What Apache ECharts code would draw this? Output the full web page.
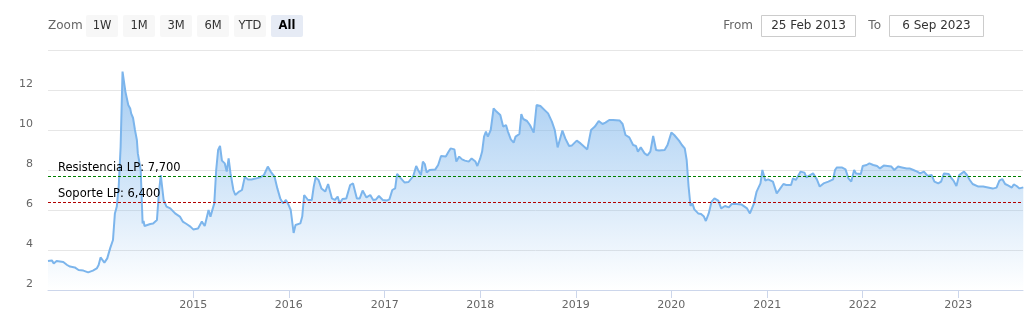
<!DOCTYPE html>
<html>
<head>
<meta charset="utf-8">
<script src="https://cdn.jsdelivr.net/npm/echarts@6/dist/echarts.min.js"></script>
<style>
html,body{margin:0;padding:0;background:#fff;}
#chart{width:1034px;height:321px;}
</style>
</head>
<body>
<div id="chart"></div>
<script>
// Dates as decimal years
const years = [
2013.48,2013.50,2013.52,2013.54,2013.57,2013.64,2013.68,2013.71,2013.76,2013.80,2013.85,2013.90,2013.95,2013.99,
2014.01,2014.03,2014.07,2014.10,2014.13,2014.16,2014.18,2014.20,2014.22,2014.24,2014.26,2014.29,2014.30,2014.32,
2014.34,2014.35,2014.37,2014.38,2014.39,2014.41,2014.42,2014.45,2014.47,2014.48,2014.49,2014.51,2014.55,2014.58,
2014.62,2014.64,2014.66,2014.69,2014.72,2014.76,2014.81,2014.86,2014.89,2014.93,2014.97,
2015.00,2015.05,2015.09,2015.12,2015.16,2015.18,2015.22,2015.24,2015.26,2015.28,2015.30,2015.33,2015.35,2015.37,
2015.39,2015.42,2015.44,2015.48,2015.51,2015.54,2015.57,2015.61,2015.65,2015.70,2015.74,2015.78,2015.81,2015.85,
2015.88,2015.91,2015.94,2015.97,2015.99,
2016.02,2016.05,2016.07,2016.12,2016.14,2016.16,2016.20,2016.24,2016.26,2016.28,2016.31,2016.34,2016.38,2016.41,
2016.43,2016.45,2016.48,2016.51,2016.53,2016.56,2016.60,2016.64,2016.67,2016.71,2016.74,2016.77,2016.81,2016.85,
2016.88,2016.91,2016.94,2016.98,
2017.02,2017.05,2017.08,2017.11,2017.13,2017.16,2017.21,2017.25,2017.27,2017.30,2017.33,2017.35,2017.38,2017.40,
2017.42,2017.44,2017.47,2017.53,2017.56,2017.59,2017.61,2017.64,2017.67,2017.69,2017.73,2017.75,2017.78,2017.81,
2017.84,2017.88,2017.91,2017.95,2017.97,
2018.00,2018.02,2018.04,2018.06,2018.08,2018.11,2018.14,2018.17,2018.21,2018.24,2018.27,2018.29,2018.32,2018.35,
2018.37,2018.41,2018.43,2018.45,2018.49,2018.52,2018.56,2018.59,2018.63,2018.68,2018.71,2018.75,2018.78,2018.81,
2018.83,2018.86,2018.89,2018.91,2018.93,2018.96,
2019.01,2019.05,2019.08,2019.12,2019.14,2019.16,2019.20,2019.24,2019.28,2019.31,2019.35,2019.39,2019.46,2019.49,
2019.52,2019.56,2019.60,2019.63,2019.65,2019.68,2019.72,2019.75,2019.78,2019.81,2019.84,2019.87,2019.93,2019.96,
2020.00,2020.03,2020.08,2020.11,2020.14,2020.16,2020.18,2020.20,2020.22,2020.24,2020.28,2020.31,2020.34,2020.36,
2020.39,2020.42,2020.45,2020.49,2020.52,2020.56,2020.60,2020.63,2020.68,2020.73,2020.79,2020.82,2020.86,2020.89,
2020.93,2020.95,2020.98,
2021.01,2021.06,2021.10,2021.13,2021.17,2021.20,2021.25,2021.27,2021.30,2021.35,2021.39,2021.41,2021.45,2021.48,
2021.52,2021.55,2021.59,2021.64,2021.69,2021.71,2021.73,2021.78,2021.82,2021.85,2021.88,2021.91,2021.93,2021.98,
2022.00,2022.04,2022.07,2022.11,2022.15,2022.18,2022.22,2022.26,2022.30,2022.33,2022.37,2022.41,2022.46,2022.49,
2022.53,2022.57,2022.60,2022.64,2022.68,2022.72,2022.75,2022.79,2022.82,2022.85,2022.90,2022.93,2022.95,2022.98,
2023.01,2023.06,2023.09,2023.12,2023.15,2023.21,2023.26,2023.31,2023.36,2023.40,2023.43,2023.46,2023.49,2023.52,
2023.56,2023.58,2023.61,2023.64,2023.68
];
const values = [
3.45,3.38,3.48,3.33,3.45,3.40,3.25,3.17,3.13,3.00,2.97,2.88,2.97,3.08,
3.25,3.63,3.37,3.58,4.08,4.50,5.83,6.17,7.17,9.17,12.92,11.92,11.90,11.25,
11.08,10.83,10.60,10.60,10.00,9.50,8.83,8.00,5.33,5.45,5.20,5.17,5.30,5.33,
5.50,6.83,7.75,6.50,6.17,6.08,5.83,5.67,5.42,5.30,5.17,
5.03,5.07,5.42,5.20,6.00,5.67,6.33,8.00,9.00,9.20,8.47,8.33,7.92,8.58,
7.83,7.00,6.75,6.92,7.00,7.67,7.53,7.53,7.57,7.63,7.75,8.17,7.92,7.67,
7.08,6.58,6.33,6.50,6.33,
6.00,4.85,5.25,5.33,5.67,6.75,6.50,6.50,7.17,7.63,7.50,7.08,6.92,7.30,
7.30,6.58,6.50,6.67,6.33,6.55,6.58,7.25,7.33,6.58,6.58,6.97,6.63,6.75,
6.50,6.53,6.70,6.50,
6.47,6.53,7.00,7.08,7.80,7.63,7.37,7.40,7.37,7.70,8.20,8.00,7.75,8.42,
8.30,7.87,8.00,8.03,8.25,8.70,8.80,8.67,8.92,9.08,9.03,8.42,8.67,8.53,
8.47,8.42,8.58,8.42,8.20,
8.58,8.92,9.67,9.92,9.67,10.00,11.08,10.92,10.75,10.17,10.25,9.92,9.53,9.37,
9.67,9.80,10.80,10.55,10.45,10.25,9.87,11.25,11.20,10.97,10.83,10.42,10.00,9.13,
9.13,9.97,9.58,9.50,9.20,9.23,
9.47,9.33,9.20,9.03,9.05,10.00,10.17,10.45,10.30,10.37,10.50,10.50,10.47,10.30,
9.75,9.63,9.25,9.20,8.92,9.13,8.83,8.73,8.92,9.70,9.00,8.97,9.00,9.25,
9.87,9.75,9.47,9.25,9.08,8.50,7.17,6.20,6.33,6.03,5.83,5.80,5.67,5.45,
5.83,6.42,6.58,6.47,6.08,6.20,6.13,6.30,6.30,6.28,6.08,5.83,6.30,6.92,
7.33,8.00,7.47,
7.53,7.42,6.83,7.03,7.30,7.25,7.25,7.58,7.50,7.92,7.87,7.63,7.75,7.83,
7.53,7.17,7.33,7.42,7.53,8.00,8.13,8.13,8.03,7.58,7.42,8.00,7.83,7.80,
8.20,8.25,8.33,8.25,8.20,8.08,8.22,8.20,8.17,8.00,8.17,8.13,8.08,8.08,
8.00,7.92,7.83,7.92,7.70,7.75,7.42,7.33,7.42,7.83,7.80,7.58,7.47,7.20,
7.75,7.92,7.75,7.50,7.30,7.17,7.17,7.12,7.07,7.12,7.47,7.55,7.30,7.23,
7.12,7.28,7.20,7.08,7.13
];
const tickYears = [2015,2016,2017,2018,2019,2020,2021,2022,2023];
const yTicks = [2,4,6,8,10,12,14];
const resistance = 7.7;
const support = 6.4;
const rangeButtons = ['1W','1M','3M','6M','YTD','All'];
const fromText = '25 Feb 2013';
const toText = '6 Sep 2023';
const axisStart = 2013.48, axisEnd = 2023.677;

function yearToTime(y){
  const Y = Math.floor(y);
  const a = Date.UTC(Y,0,1), b = Date.UTC(Y+1,0,1);
  return a + (y - Y) * (b - a);
}
const data = years.map((y,i)=>[yearToTime(y), values[i]]);
const tickTimes = tickYears.map(y=>Date.UTC(y,0,1));

const FONT = 'DejaVu Sans';
const graphics = [];
graphics.push({type:'text', x:48, y:26, style:{text:'Zoom', fill:'#666', font:'12px "DejaVu Sans"', textVerticalAlign:'middle'}});
rangeButtons.forEach((b,i)=>{
  const x = 86 + i*37;
  const sel = b === 'All';
  graphics.push({type:'rect', shape:{x:x, y:15, width:32, height:22, r:2}, style:{fill: sel ? '#e6ebf5' : '#f7f7f7'}});
  graphics.push({type:'text', x:x+16, y:26, style:{text:b, fill: sel ? '#000' : '#333', font:(sel?'bold ':'')+'11.5px "DejaVu Sans"', textAlign:'center', textVerticalAlign:'middle'}});
});
graphics.push({type:'text', x:753, y:26, style:{text:'From', fill:'#666', font:'12px "DejaVu Sans"', textAlign:'right', textVerticalAlign:'middle'}});
graphics.push({type:'rect', shape:{x:761.5, y:15.5, width:94, height:21}, style:{fill:'#fff', stroke:'#cccccc', lineWidth:1}});
graphics.push({type:'text', x:808.5, y:26, style:{text:fromText, fill:'#333', font:'12px "DejaVu Sans"', textAlign:'center', textVerticalAlign:'middle'}});
graphics.push({type:'text', x:881, y:26, style:{text:'To', fill:'#666', font:'12px "DejaVu Sans"', textAlign:'right', textVerticalAlign:'middle'}});
graphics.push({type:'rect', shape:{x:889.5, y:15.5, width:94, height:21}, style:{fill:'#fff', stroke:'#cccccc', lineWidth:1}});
graphics.push({type:'text', x:936.5, y:26, style:{text:toText, fill:'#333', font:'12px "DejaVu Sans"', textAlign:'center', textVerticalAlign:'middle'}});

const chart = echarts.init(document.getElementById('chart'), null, {renderer:'canvas'});
chart.setOption({
  animation:false,
  backgroundColor:'#fff',
  textStyle:{fontFamily:FONT},
  grid:{left:48, right:11, top:50, bottom:31, containLabel:false},
  graphic: graphics,
  xAxis:{
    type:'value',
    min: yearToTime(axisStart),
    max: yearToTime(axisEnd),
    axisLine:{show:true, onZero:false, lineStyle:{color:'#ccd6eb', width:1}},
    axisTick:{show:true, length:8, lineStyle:{color:'#ccd6eb'}, customValues: tickTimes},
    axisLabel:{color:'#666', fontSize:11, fontFamily:FONT, margin:10, customValues: tickTimes,
      showMinLabel:true, showMaxLabel:true,
      formatter:(v)=>String(new Date(v).getUTCFullYear())},
    splitLine:{show:false}
  },
  yAxis:{
    type:'value',
    min: yTicks[0], max: yTicks[yTicks.length-1], interval:2,
    axisLine:{show:false}, axisTick:{show:false},
    axisLabel:{color:'#666', fontSize:11, fontFamily:FONT, margin:15, verticalAlign:'bottom',
      formatter:(v)=> v === yTicks[yTicks.length-1] ? '' : String(v)},
    splitLine:{lineStyle:{color:'#e6e6e6', width:1}}
  },
  series:[{
    type:'line',
    data:data,
    showSymbol:false,
    symbol:'none',
    lineStyle:{color:'#7cb5ec', width:2},
    itemStyle:{color:'#7cb5ec'},
    areaStyle:{color:{type:'linear', x:0, y:0, x2:0, y2:1, colorStops:[
      {offset:0, color:'rgba(124,181,236,1)'},
      {offset:1, color:'rgba(124,181,236,0)'}
    ]}},
    markLine:{
      silent:true, symbol:'none',
      data:[
        {yAxis:resistance, lineStyle:{color:'#008000', type:[3,2], width:1},
         label:{show:true, position:'insideStartTop', formatter:'Resistencia LP: 7,700', color:'#000', fontSize:11.5, fontFamily:FONT, distance:[10,2]}},
        {yAxis:support, lineStyle:{color:'#b30000', type:[3,2], width:1},
         label:{show:true, position:'insideStartTop', formatter:'Soporte LP: 6,400', color:'#000', fontSize:11.5, fontFamily:FONT, distance:[10,2]}}
      ]
    }
  }]
});
</script>
</body>
</html>
